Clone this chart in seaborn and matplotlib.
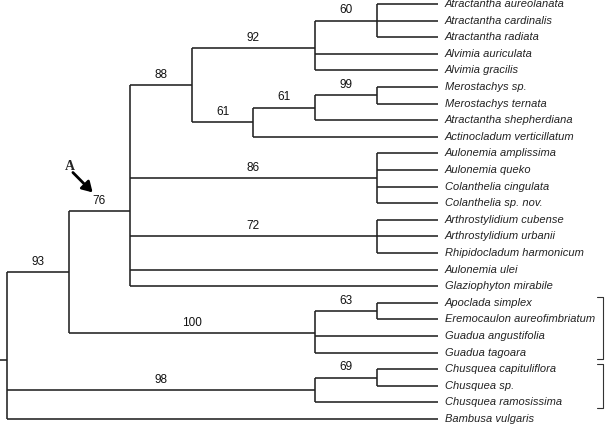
"""
Cladograma Arthrostylidiinae + grupos externos (recreacion)
"""
import numpy as np
import matplotlib.pyplot as plt
import seaborn as sns

sns.set_theme(style="white")
plt.rcParams.update({"font.family": ["Liberation Sans", "DejaVu Sans"]})

# --- datos del arbol -------------------------------------------------
taxa = [
    "Atractantha aureolanata", "Atractantha cardinalis", "Atractantha radiata",
    "Alvimia auriculata", "Alvimia gracilis", "Merostachys sp.",
    "Merostachys ternata", "Atractantha shepherdiana", "Actinocladum verticillatum",
    "Aulonemia amplissima", "Aulonemia queko", "Colanthelia cingulata",
    "Colanthelia sp. nov.", "Arthrostylidium cubense", "Arthrostylidium urbanii",
    "Rhipidocladum harmonicum", "Aulonemia ulei", "Glaziophyton mirabile",
    "Apoclada simplex", "Eremocaulon aureofimbriatum", "Guadua angustifolia",
    "Guadua tagoara", "Chusquea capituliflora", "Chusquea sp.",
    "Chusquea ramosissima", "Bambusa vulgaris",
]
taxon_parent = [
    "n60", "n60", "n60", "n92", "n92", "n99", "n99", "n61a", "n61b",
    "n86", "n86", "n86", "n86", "n72", "n72", "n72", "n76", "n76",
    "n63", "n63", "n100", "n100", "n69", "n69", "n98", "root",
]
nodes = ["root", "n93", "n76", "n88", "n92", "n60", "n61b", "n61a", "n99",
         "n86", "n72", "n100", "n63", "n98", "n69"]
node_parent = [None, "root", "n93", "n76", "n88", "n92", "n88", "n61b", "n61a",
               "n76", "n76", "n93", "n100", "root", "n98"]
node_support = [None, 93, 76, 88, 92, 60, 61, 61, 99, 86, 72, 100, 63, 98, 69]

# grupos marcados con corchete (indices de taxa)
brackets = [(18, 21), (22, 24)]

# --- layout ------------------------------------------------------------
children = {n: [] for n in nodes}
for n, p in zip(nodes, node_parent):
    if p is not None:
        children[p].append(n)
for i, p in enumerate(taxon_parent):
    children[p].append(i)

height = {}
ypos = {}


def walk(n):
    if isinstance(n, int):
        height[n] = 0
        ypos[n] = n
        return
    for c in children[n]:
        walk(c)
    height[n] = 1 + max(height[c] for c in children[n])
    ypos[n] = np.mean([ypos[c] for c in children[n]])


walk("root")
HMAX = height["root"]


def xof(n):
    return HMAX - height[n]


fig = plt.figure(figsize=(6.09, 4.24), dpi=100)
ax = fig.add_axes([0, 0, 1, 1])
ax.set_xlim(-0.1136, 9.773)
ax.set_ylim(25.30, -0.241)
ax.axis("off")

LC = "#222222"
LW = 1.15
for n in nodes:
    xs = xof(n)
    ys = [ypos[c] for c in children[n]]
    ax.vlines(xs, min(ys), max(ys), color=LC, lw=LW)
    for c in children[n]:
        ax.hlines(ypos[c], xs, xof(c), color=LC, lw=LW)
# raiz
ax.hlines(ypos["root"], -0.12, 0, color=LC, lw=LW)

# soportes
for n, p, s in zip(nodes, node_parent, node_support):
    if s is None:
        continue
    xm = (xof(p) + xof(n)) / 2
    ax.text(xm, ypos[n] - 0.62, str(s), ha="center", va="center",
            fontsize=8.5, color="#111111")

# nombres
for i, t in enumerate(taxa):
    ax.text(HMAX + 0.11, i, t, ha="left", va="center", fontsize=8,
            style="italic", color="#222222")

# corchetes
for a, b in brackets:
    y0, y1 = a - 0.33, b + 0.36
    ax.plot([9.58, 9.675, 9.675, 9.58], [y0, y0, y1, y1], color="#333333", lw=0.8)

# flecha A
ax.text(1.02, 9.76, "A", ha="center", va="center", fontsize=10,
        fontweight="bold", family="Liberation Serif")
ax.annotate("", xy=(1.39, 11.35), xytext=(1.07, 10.15),
            arrowprops=dict(arrowstyle="-|>,head_length=0.5,head_width=0.3",
                            lw=2, color="black", shrinkA=0, shrinkB=0))

fig.savefig("out.png", dpi=100)
